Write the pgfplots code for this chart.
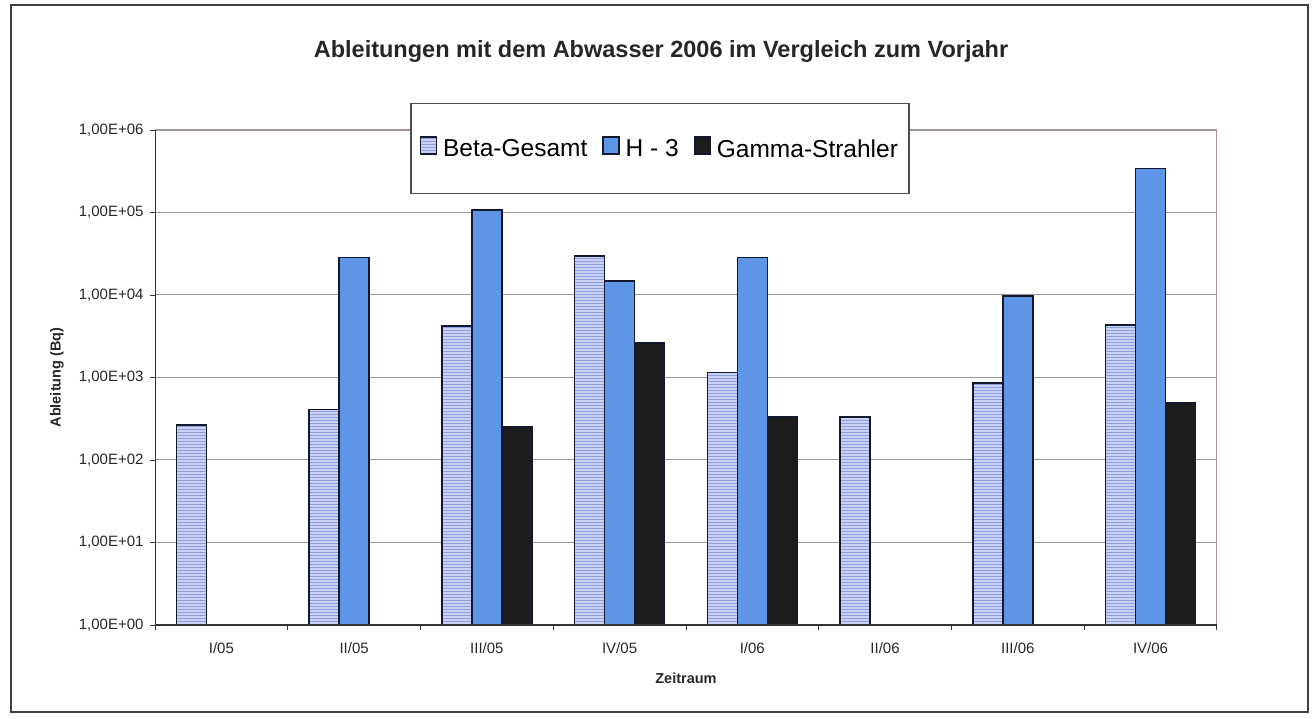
\documentclass[border=0pt]{standalone}
\usepackage{fontspec}
\setmainfont{Liberation Sans}
\usepackage{pgfplots}
\pgfplotsset{compat=1.18}
\usetikzlibrary{patterns}
\definecolor{betafill}{RGB}{200,208,244}
\definecolor{betaline}{RGB}{145,160,222}
\definecolor{hfill}{RGB}{94,149,230}
\definecolor{gfill}{RGB}{28,28,28}
\definecolor{barline}{RGB}{20,24,44}
\definecolor{boxline}{RGB}{168,144,152}
\definecolor{gridc}{RGB}{150,150,150}
\definecolor{txt}{RGB}{40,40,40}
\begin{document}
\begin{tikzpicture}
\path[use as bounding box] (0pt,0pt) rectangle (1312pt,718pt);
\draw[line width=1.6pt, black!75] (11pt,6pt) rectangle (1308pt,713pt);
\node[anchor=base, font=\fontsize{23.5}{27}\selectfont\bfseries, text=black!85] at (661pt,660pt) {Ableitungen mit dem Abwasser 2006 im Vergleich zum Vorjahr};
\begin{axis}[
  at={(155pt,93pt)}, anchor=south west,
  width=1062pt, height=495pt, scale only axis,
  ymode=log, ymin=1, ymax=1000000,
  xmin=-0.5, xmax=7.5,
  ybar=0pt, bar width=30pt,
  axis line style={draw=none},
  xtick={-0.5,0.5,...,7.5},
  x tick label as interval=true,
  xticklabels={I/05,II/05,III/05,IV/05,I/06,II/06,III/06,IV/06},
  ytick={1,10,100,1000,10000,100000,1000000},
  yticklabels={{1,00E+00},{1,00E+01},{1,00E+02},{1,00E+03},{1,00E+04},{1,00E+05},{1,00E+06}},
  yminorticks=false,
  xtick pos=bottom, ytick pos=left,
  tick align=outside,
  major tick length=5pt,
  tick style={black!80, line width=0.9pt},
  ymajorgrids=true,
  grid style={gridc, line width=1pt},
  tick label style={font=\fontsize{15}{17}\selectfont, text=txt},
  xticklabel style={yshift=-9pt},
  yticklabel style={xshift=-3pt},
  xlabel={Zeitraum},
  ylabel={Ableitung (Bq)},
  xlabel style={at={(rel axis cs:0.5,-0.107)}, anchor=center},
  ylabel style={at={(rel axis cs:-0.0923,0.5)}, anchor=center},
  label style={font=\fontsize{14.5}{16}\selectfont\bfseries, text=txt},
  legend columns=3,
  legend style={at={(0.4755,0.9626)}, anchor=center, draw=black!70, line width=1.4pt, fill=white,
    inner xsep=9pt, inner ysep=33pt,
    font=\fontsize{24.5}{28}\selectfont,
    /tikz/every odd column/.append style={column sep=4pt},
    /tikz/every even column/.append style={column sep=13pt}},
  legend image code/.code={\draw[#1, line width=1.2pt] (0pt,-5pt) rectangle (16pt,12pt);},
  every axis plot/.append style={draw=barline, line width=1.6pt},
]
\addplot[fill=betafill, postaction={pattern=horizontal lines, pattern color=betaline}] coordinates {
 (0,265) (1,410) (2,4200) (3,29500) (4,1150) (5,330) (6,860) (7,4300)};
\addplot[fill=hfill] coordinates {
 (1,28500) (2,108000) (3,14800) (4,28500) (6,9800) (7,340000)};
\addplot[fill=gfill] coordinates {
 (2,250) (3,2600) (4,330) (7,490)};
\legend{Beta-Gesamt,H - 3,Gamma-Strahler}
\draw[boxline, line width=1.6pt] (rel axis cs:0,1) -- (rel axis cs:1,1) -- (rel axis cs:1,0);
\draw[black!80, line width=1.6pt] (rel axis cs:0,1) -- (rel axis cs:0,0) -- (rel axis cs:1,0);
\end{axis}
\end{tikzpicture}
\end{document}
